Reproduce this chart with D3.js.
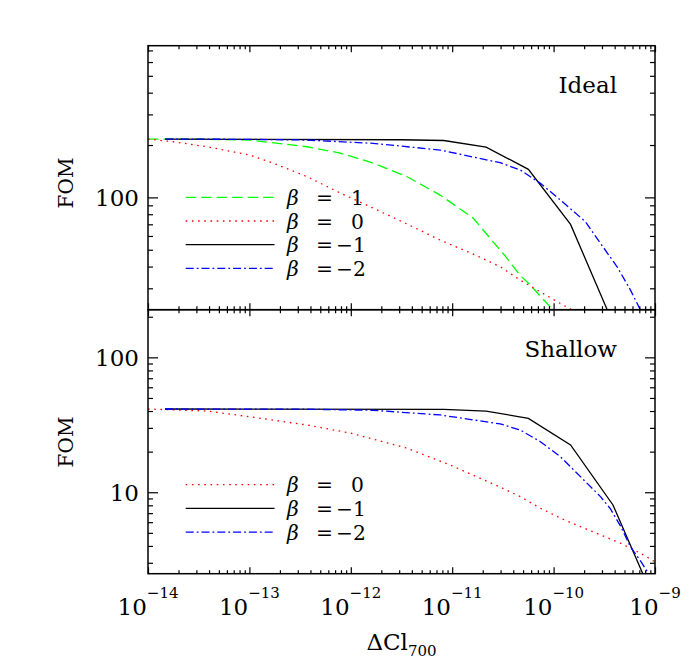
<!DOCTYPE html>
<html>
<head>
<meta charset="utf-8">
<script src="https://cdn.jsdelivr.net/npm/d3@7"></script>
<style>
body { margin: 0; background: #fff; }
text { font-family: "DejaVu Serif", serif; fill: #000; }
</style>
</head>
<body>
<svg id="chart" width="700" height="668"></svg>
<script>
// ---- data ----
var betas = [1, 0, -1, -2];

// Ideal panel
var idealCl_b1 = [1e-14, 3.26e-14, 1.0e-13, 3.69e-13, 7.85e-13, 1.66e-12, 3.6e-12, 7.6e-12, 1.61e-11, 3.34e-11, 4.70e-11, 5.97e-11, 7.75e-11, 9.73e-11, 1.17e-10];
var idealFom_b1 = [216.4, 215.9, 213.6, 195.5, 179.8, 157.5, 131.4, 103.1, 76.0, 45.9, 35.5, 31.1, 26.2, 22.8, 20.2];

var idealCl_b0 = [1e-14, 1.77e-14, 3.82e-14, 1.0e-13, 1.71e-13, 3.72e-13, 7.85e-13, 1.66e-12, 3.6e-12, 7.6e-12, 1.61e-11, 2.98e-11, 4.70e-11, 7.41e-11, 1.17e-10, 1.47e-10, 1.84e-10];
var idealFom_b0 = [216.4, 208.9, 195.5, 175.2, 157.5, 131.4, 106.0, 86.8, 70.2, 56.8, 47.2, 39.9, 33.4, 28.6, 24.5, 22.8, 21.0];

var idealCl_bm1 = [1.47e-14, 3.16e-12, 8.26e-12, 2.16e-11, 5.64e-11, 1.47e-10, 3.85e-10];
var idealFom_bm1 = [216.4, 214.5, 212.3, 194.7, 144.9, 69.9, 18.9];

var idealCl_bm2 = [1.47e-14, 1.0e-13, 3.63e-13, 1.66e-12, 7.6e-12, 2.98e-11, 4.70e-11, 7.41e-11, 1.17e-10, 2.06e-10, 2.90e-10, 4.23e-10, 5.73e-10, 8.06e-10];
var idealFom_bm2 = [216.4, 215.6, 213.6, 204.5, 187.2, 158.2, 143.6, 120.4, 96.5, 72.4, 54.4, 39.9, 29.3, 19.7];

// Shallow panel
var shallowCl_b0 = [1e-14, 3.82e-14, 1.0e-13, 3.72e-13, 1.0e-12, 3.6e-12, 9.6e-12, 2.98e-11, 4.70e-11, 7.41e-11, 1.17e-10, 1.84e-10, 2.90e-10, 4.56e-10, 7.19e-10, 1e-9];
var shallowFom_b0 = [41.4, 40.0, 36.3, 31.5, 27.4, 21.2, 15.9, 10.9, 9.28, 7.61, 6.42, 5.56, 4.83, 4.19, 3.53, 3.05];

var shallowCl_bm1 = [1.47e-14, 8.26e-12, 2.16e-11, 5.64e-11, 1.47e-10, 3.85e-10, 1e-9];
var shallowFom_bm1 = [41.4, 41.2, 40.0, 35.3, 22.4, 8.05, 1.54];

var shallowCl_bm2 = [1.47e-14, 3.16e-13, 1.66e-12, 7.6e-12, 2.98e-11, 4.70e-11, 7.41e-11, 1.17e-10, 1.84e-10, 2.90e-10, 3.64e-10, 4.56e-10, 5.73e-10, 7.19e-10, 8.44e-10, 1.0e-9];
var shallowFom_bm2 = [41.4, 41.3, 40.5, 37.4, 32.1, 28.9, 23.7, 18.3, 13.05, 9.28, 7.52, 5.63, 3.93, 3.10, 2.57, 2.06];

// axes
var xDomain = [1e-14, 1e-9];
var xTickExps = [-14, -13, -12, -11, -10, -9];
var idealYDomain = [22.6, 745];
var shallowYDomain = [2.49, 225.5];
var idealYLabels = [100];
var shallowYLabels = [10, 100];

// ---- styles ----
var styles = {
  "1":  { color: "#00ff00", dash: "10.5,5" },
  "0":  { color: "#ff0000", dash: "1.6,4.6" },
  "-1": { color: "#000000", dash: null },
  "-2": { color: "#0000ff", dash: "8,3,1.8,3" }
};

var svg = d3.select("#chart");
var left = 148, right = 655, panelH = 264;

var x = d3.scaleLog().domain(xDomain).range([left, right]);

var panels = [
  { name: "Ideal", top: 45.7, yDomain: idealYDomain, yLabels: idealYLabels, xLabels: false,
    series: [
      { beta: 1, cl: idealCl_b1, fom: idealFom_b1 },
      { beta: 0, cl: idealCl_b0, fom: idealFom_b0 },
      { beta: -1, cl: idealCl_bm1, fom: idealFom_bm1 },
      { beta: -2, cl: idealCl_bm2, fom: idealFom_bm2 }
    ] },
  { name: "Shallow", top: 309.7, yDomain: shallowYDomain, yLabels: shallowYLabels, xLabels: true,
    series: [
      { beta: 0, cl: shallowCl_b0, fom: shallowFom_b0 },
      { beta: -1, cl: shallowCl_bm1, fom: shallowFom_bm1 },
      { beta: -2, cl: shallowCl_bm2, fom: shallowFom_bm2 }
    ] }
];

function isDecade(v) {
  var l = Math.log10(v);
  return Math.abs(l - Math.round(l)) < 1e-6;
}

var xMajor = x.ticks().filter(isDecade);
var xMinor = x.ticks().filter(function(v) { return !isDecade(v); });

panels.forEach(function(p, i) {
  var bottom = p.top + panelH;
  var y = d3.scaleLog().domain(p.yDomain).range([bottom, p.top]);

  var clipId = "clip" + i;
  svg.append("clipPath").attr("id", clipId)
    .append("rect")
    .attr("x", left).attr("y", p.top)
    .attr("width", right - left).attr("height", panelH);

  var g = svg.append("g");

  // curves
  var line = d3.line()
    .x(function(d) { return x(d[0]); })
    .y(function(d) { return y(d[1]); });

  g.append("g").attr("clip-path", "url(#" + clipId + ")")
    .selectAll("path")
    .data(p.series)
    .enter()
    .append("path")
    .attr("d", function(s) { return line(d3.zip(s.cl, s.fom)); })
    .attr("fill", "none")
    .attr("stroke", function(s) { return styles[s.beta].color; })
    .attr("stroke-width", 1.3)
    .attr("stroke-dasharray", function(s) { return styles[s.beta].dash; });

  // ticks on all four sides
  var yMajor = y.ticks().filter(isDecade);
  var yMinor = y.ticks().filter(function(v) { return !isDecade(v); });

  function addAxis(axis, tx, ty) {
    var a = g.append("g")
      .attr("transform", "translate(" + tx + "," + ty + ")")
      .call(axis.tickFormat("").tickSizeOuter(0));
    a.select(".domain").remove();
    a.selectAll("line").attr("stroke", "#000").attr("stroke-width", 1.2);
  }
  addAxis(d3.axisTop(x).tickValues(xMajor).tickSize(6.5), 0, bottom);
  addAxis(d3.axisTop(x).tickValues(xMinor).tickSize(3.5), 0, bottom);
  addAxis(d3.axisBottom(x).tickValues(xMajor).tickSize(6.5), 0, p.top);
  addAxis(d3.axisBottom(x).tickValues(xMinor).tickSize(3.5), 0, p.top);
  addAxis(d3.axisRight(y).tickValues(yMajor).tickSize(10), left, 0);
  addAxis(d3.axisRight(y).tickValues(yMinor).tickSize(5), left, 0);
  addAxis(d3.axisLeft(y).tickValues(yMajor).tickSize(10), right, 0);
  addAxis(d3.axisLeft(y).tickValues(yMinor).tickSize(5), right, 0);

  // frame
  g.append("rect")
    .attr("x", left).attr("y", p.top)
    .attr("width", right - left).attr("height", panelH)
    .attr("fill", "none").attr("stroke", "#000").attr("stroke-width", 1.5);

  // y tick labels
  g.selectAll(".ylab")
    .data(p.yLabels)
    .enter()
    .append("text")
    .attr("x", left - 9)
    .attr("y", function(d) { return y(d) + 8.5; })
    .attr("text-anchor", "end")
    .attr("font-size", 23)
    .text(function(d) { return d; });

  // y axis title
  g.append("text")
    .attr("transform", "translate(73," + (i === 0 ? 183 : 442) + ") rotate(-90)")
    .attr("text-anchor", "middle")
    .attr("font-size", 20)
    .text("FOM");

  // panel name
  g.append("text")
    .attr("x", 617).attr("y", p.top + 47.6)
    .attr("text-anchor", "end")
    .attr("font-size", 23)
    .text(p.name);

  // legend
  var legTop = i === 0 ? 197.3 : 484.7;
  var leg = g.selectAll(".leg")
    .data(p.series)
    .enter()
    .append("g")
    .attr("transform", function(s, k) { return "translate(0," + (legTop + k * 23.7) + ")"; });
  leg.append("line")
    .attr("x1", 185.7).attr("x2", 274.5)
    .attr("stroke", function(s) { return styles[s.beta].color; })
    .attr("stroke-width", 1.3)
    .attr("stroke-dasharray", function(s) { return styles[s.beta].dash; });
  leg.append("text")
    .attr("x", 287).attr("y", 7.5)
    .attr("font-size", 20.3).attr("font-style", "italic")
    .text("\u03b2");
  leg.append("text")
    .attr("x", 316).attr("y", 7.5)
    .attr("font-size", 20.3)
    .text("=");
  leg.append("text")
    .attr("x", function(s) { return s.beta < 0 ? 336 : 351; })
    .attr("y", 7.5)
    .attr("font-size", 20.3)
    .text(function(s) { return s.beta < 0 ? "\u2212" + Math.abs(s.beta) : s.beta; });

  // x tick labels
  if (p.xLabels) {
    xTickExps.forEach(function(e) {
      var t = g.append("text")
        .attr("x", x(Math.pow(10, e)))
        .attr("y", bottom + 41)
        .attr("text-anchor", "middle")
        .attr("font-size", 23);
      t.append("tspan").text("10");
      t.append("tspan").attr("dy", -17).attr("font-size", 15).text("\u2212" + Math.abs(e));
    });
  }
});

// x axis title
var xt = svg.append("text")
  .attr("x", (left + right) / 2)
  .attr("y", 649.5)
  .attr("text-anchor", "middle")
  .attr("font-size", 23);
xt.append("tspan").text("\u0394Cl");
xt.append("tspan").attr("dy", 6.5).attr("font-size", 15).text("700");
</script>
</body>
</html>
